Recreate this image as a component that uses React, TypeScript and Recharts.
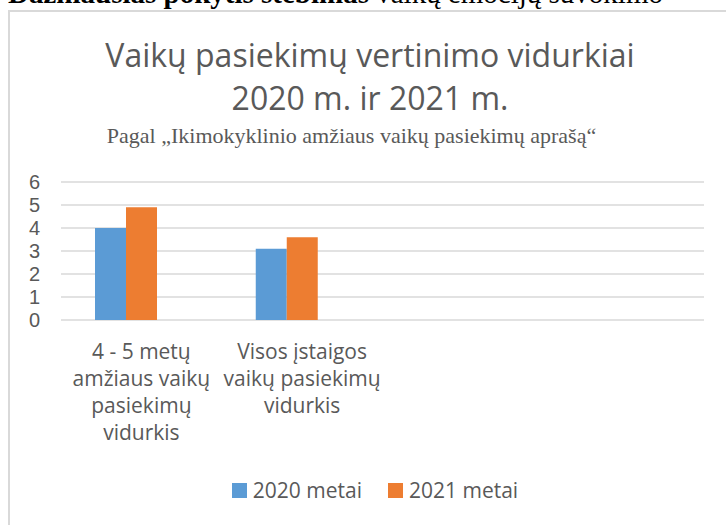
import React from "react";
import { BarChart, Bar, XAxis, YAxis, CartesianGrid, Legend } from "recharts";

const categories = [
  "4 - 5 metų amžiaus vaikų pasiekimų vidurkis",
  "Visos įstaigos vaikų pasiekimų vidurkis",
  "",
  "",
];
const categoryLines: string[][] = [
  ["4 - 5 metų", "amžiaus vaikų", "pasiekimų", "vidurkis"],
  ["Visos įstaigos", "vaikų pasiekimų", "vidurkis"],
  [],
  [],
];
const values2020: (number | null)[] = [4.0, 3.1, null, null];
const values2021: (number | null)[] = [4.9, 3.6, null, null];
const valuesEmpty: (number | null)[] = [null, null, null, null];
const seriesNames = ["2020 metai", "2021 metai"];
const yTicks = [0, 1, 2, 3, 4, 5, 6];

const heading = "Dažniausias pokytis stebimas";
const headingRest = "vaikų emocijų suvokimo";
const titleLines = ["Vaikų pasiekimų vertinimo vidurkiai", "2020 m. ir 2021 m."];
const subtitle = "Pagal „Ikimokyklinio amžiaus vaikų pasiekimų aprašą“";

const BLUE = "#5B9BD5";
const ORANGE = "#ED7D31";
const TEXT = "#595959";
const GRID = "#D9D9D9";
const SANS = "'Open Sans', sans-serif";
const TICKFONT = "'Liberation Sans', Arial, sans-serif";
const SERIF = "'Liberation Serif', 'Times New Roman', serif";

const data = categories.map((c, i) => ({
  idx: i,
  name: c,
  s2020: values2020[i],
  s2021: values2021[i],
  s3: valuesEmpty[i],
}));

const CategoryTick = (props: any) => {
  const { x, y, payload } = props;
  const lines = categoryLines[payload.index] || [];
  return (
    <g>
      {lines.map((l, k) => (
        <text
          key={k}
          x={x}
          y={y + 39 + k * 27}
          textAnchor="middle"
          fill={TEXT}
          fontFamily={SANS}
          fontSize={21}
        >
          {l}
        </text>
      ))}
    </g>
  );
};

const LegendContent = () => {
  const colors = [BLUE, ORANGE];
  return (
    <div style={{ display: "flex", justifyContent: "center", alignItems: "center", fontFamily: SANS, fontSize: 21, color: TEXT }}>
      {seriesNames.map((n, i) => (
        <div key={n} style={{ display: "flex", alignItems: "center", marginLeft: i === 0 ? 0 : 26 }}>
          <div style={{ width: 15, height: 15, background: colors[i], marginRight: 6 }} />
          <span style={{ lineHeight: "28px" }}>{n}</span>
        </div>
      ))}
    </div>
  );
};

export default function App() {
  return (
    <div style={{ position: "absolute", left: 0, top: 0, width: 726, height: 525, overflow: "hidden", background: "#fff" }}>
      <div style={{ position: "absolute", left: 8, top: 10, width: 760, height: 700, border: `2px solid ${GRID}`, boxSizing: "border-box" }} />
      <svg width={726} height={525} style={{ position: "absolute", left: 0, top: 0 }}>
        <text x={8} y={3} fontFamily={SERIF} fontSize={29} fill="#000">
          <tspan fontWeight="bold">{heading}</tspan>
          <tspan> {headingRest}</tspan>
        </text>
        <text x={370} y={67} textAnchor="middle" fontFamily={SANS} fontSize={32} fill={TEXT}>{titleLines[0]}</text>
        <text x={370} y={110} textAnchor="middle" fontFamily={SANS} fontSize={32} fill={TEXT}>{titleLines[1]}</text>
        <text x={351.5} y={143} textAnchor="middle" fontFamily={SERIF} fontSize={22} fill={TEXT}>{subtitle}</text>
      </svg>
      <div style={{ position: "absolute", left: 0, top: 0 }}>
        <BarChart
          width={726}
          height={525}
          data={data}
          margin={{ top: 182, right: 22, bottom: 85, left: 0 }}
          barGap={0}
          barSize={31}
        >
          <CartesianGrid vertical={false} stroke={GRID} strokeWidth={1.5} />
          <XAxis
            dataKey="idx"
            type="category"
            axisLine={false}
            tickLine={false}
            tickSize={0}
            tickMargin={0}
            height={120}
            interval={0}
            tick={<CategoryTick />}
          />
          <YAxis
            domain={[0, 6]}
            ticks={yTicks}
            interval={0}
            width={61}
            axisLine={false}
            tickLine={false}
            tickSize={0}
            tickMargin={21}
            tick={{ fill: TEXT, fontFamily: TICKFONT, fontSize: 20 }}
          />
          <Legend
            layout="horizontal"
            verticalAlign="middle"
            align="center"
            wrapperStyle={{ position: "absolute", top: 476, left: 12, width: 726 }}
            content={<LegendContent />}
          />
          <Bar dataKey="s2020" name={seriesNames[0]} fill={BLUE} isAnimationActive={false} />
          <Bar dataKey="s2021" name={seriesNames[1]} fill={ORANGE} isAnimationActive={false} />
          <Bar dataKey="s3" legendType="none" fill="#A5A5A5" isAnimationActive={false} />
        </BarChart>
      </div>
    </div>
  );
}
